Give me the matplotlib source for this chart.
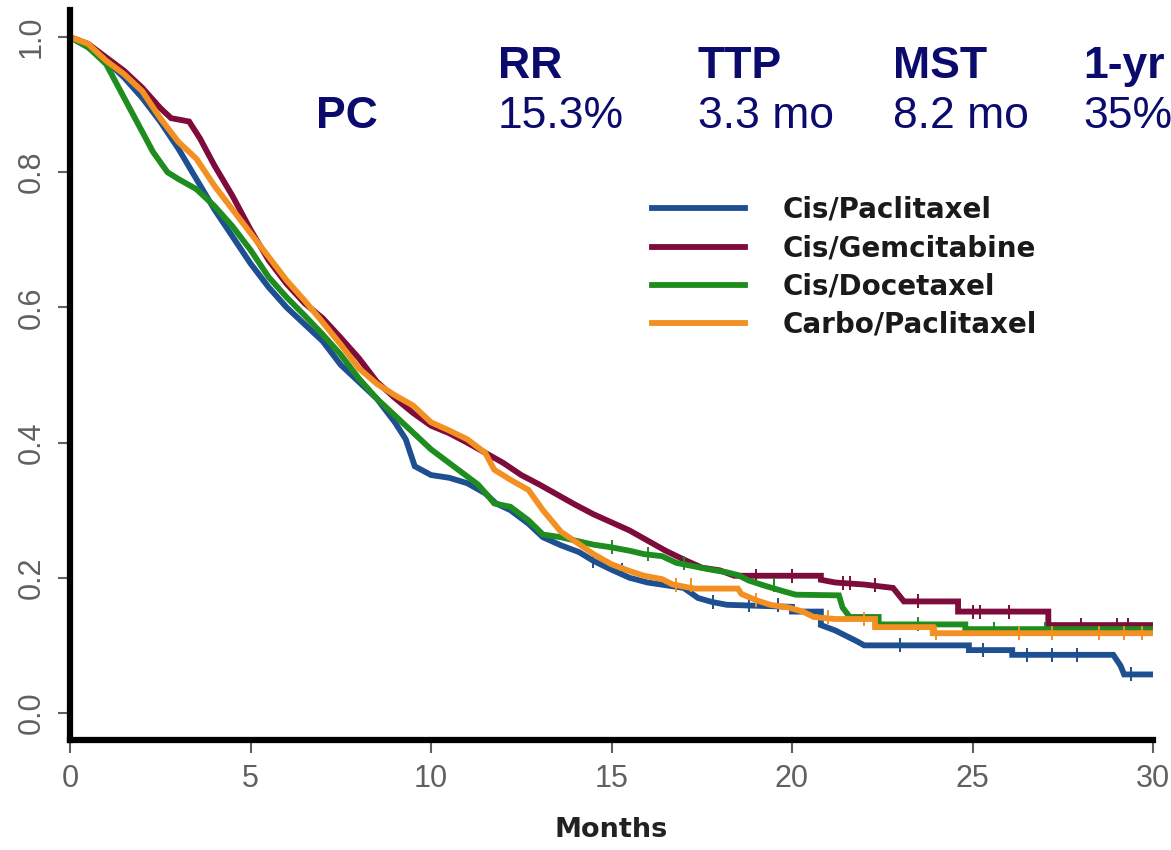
"""
Kaplan-Meier overall survival, four platinum doublets (re-drawn from slide).
"""

import numpy as np
import matplotlib
matplotlib.use('Agg')
import matplotlib.pyplot as plt


# ============================================================
# DATA
# ============================================================
arms = ['Cis/Paclitaxel', 'Cis/Gemcitabine', 'Cis/Docetaxel', 'Carbo/Paclitaxel']
arm_colors = ['#1d4f91', '#7d0b3b', '#1e8c1e', '#f39022']

# months / survival fraction; repeated months = a vertical drop of the step curve
pc_t = [0, 0.5, 1, 1.5, 2, 2.5, 3, 3.5, 4, 4.5, 5, 5.5, 6, 6.5, 7, 7.5, 8, 8.5,
        9, 9.3, 9.55, 10, 10.5, 11, 11.5, 11.8, 12.2, 12.7, 13.1, 13.6, 14.1,
        14.5, 15, 15.5, 16, 16.5, 17, 17.4, 17.8, 18.2, 20.0, 20.0, 20.8, 20.8,
        21.2, 21.5, 21.8, 22.0, 24.9, 24.9, 26.1, 26.1, 28.9, 29.1, 29.2, 30]
pc_s = [1.0, 0.985, 0.965, 0.94, 0.91, 0.875, 0.835, 0.79, 0.745, 0.705, 0.665,
        0.63, 0.60, 0.575, 0.55, 0.515, 0.49, 0.465, 0.43, 0.405, 0.365, 0.352,
        0.348, 0.34, 0.325, 0.31, 0.30, 0.28, 0.26, 0.248, 0.238, 0.225, 0.212,
        0.20, 0.193, 0.189, 0.185, 0.17, 0.164, 0.16, 0.157, 0.15, 0.15, 0.13,
        0.122, 0.114, 0.106, 0.10, 0.10, 0.093, 0.093, 0.086, 0.086, 0.07,
        0.057, 0.057]

gc_t = [0, 0.5, 1, 1.5, 2, 2.5, 2.8, 3.3, 3.6, 4, 4.5, 5, 5.5, 6, 6.5, 7, 7.5,
        8, 8.5, 9, 9.5, 10, 10.5, 11, 11.5, 12, 12.5, 13, 13.5, 14, 14.5, 15,
        15.5, 16, 16.5, 17, 17.5, 18, 18.4, 20.8, 20.8, 21.2, 22.0, 22.8, 23.1,
        24.6, 24.6, 27.1, 27.1, 30]
gc_s = [1.0, 0.99, 0.97, 0.95, 0.925, 0.895, 0.88, 0.875, 0.85, 0.81, 0.765,
        0.715, 0.67, 0.635, 0.606, 0.584, 0.555, 0.525, 0.49, 0.466, 0.444,
        0.425, 0.414, 0.40, 0.385, 0.37, 0.352, 0.338, 0.323, 0.308, 0.294,
        0.282, 0.27, 0.255, 0.24, 0.227, 0.215, 0.211, 0.203, 0.203, 0.197,
        0.193, 0.19, 0.185, 0.165, 0.165, 0.15, 0.15, 0.13, 0.13]

dc_t = [0, 0.5, 1, 1.3, 1.6, 2, 2.3, 2.7, 3, 3.5, 4, 4.5, 5, 5.5, 6, 6.5, 7,
        7.5, 8, 8.5, 9, 9.5, 10, 10.5, 11, 11.3, 11.6, 11.75, 12.2, 12.7, 13.1,
        13.6, 14, 14.5, 15, 15.5, 15.9, 16.4, 16.8, 17.75, 18.2, 18.5, 18.8,
        19.2, 19.7, 20.1, 21.3, 21.4, 21.6, 22.4, 22.4, 24.8, 24.8, 30]
dc_s = [1.0, 0.985, 0.96, 0.93, 0.90, 0.86, 0.83, 0.80, 0.79, 0.775, 0.75,
        0.72, 0.685, 0.645, 0.615, 0.588, 0.56, 0.53, 0.495, 0.465, 0.44,
        0.415, 0.39, 0.37, 0.35, 0.338, 0.32, 0.31, 0.305, 0.285, 0.264, 0.26,
        0.255, 0.249, 0.245, 0.24, 0.235, 0.232, 0.222, 0.212, 0.208, 0.204,
        0.196, 0.189, 0.181, 0.175, 0.174, 0.156, 0.142, 0.142, 0.131, 0.131,
        0.124, 0.124]

cp_t = [0, 0.5, 1, 1.5, 2, 2.5, 3, 3.5, 4, 4.5, 5, 5.5, 6, 6.5, 7, 7.5, 8, 8.5,
        9, 9.5, 10, 10.5, 11, 11.5, 11.75, 12.2, 12.7, 13.1, 13.6, 14.1, 14.5,
        15, 15.5, 15.9, 16.4, 16.7, 17.3, 18.5, 18.6, 19, 19.4, 19.9, 20.3,
        20.6, 21.2, 22.3, 22.3, 23.9, 23.9, 30]
cp_s = [1.0, 0.99, 0.965, 0.945, 0.92, 0.88, 0.845, 0.82, 0.78, 0.745, 0.71,
        0.675, 0.64, 0.61, 0.578, 0.545, 0.51, 0.487, 0.47, 0.455, 0.43, 0.418,
        0.405, 0.385, 0.36, 0.345, 0.33, 0.30, 0.268, 0.25, 0.235, 0.22, 0.21,
        0.203, 0.198, 0.19, 0.184, 0.184, 0.176, 0.167, 0.16, 0.156, 0.15,
        0.142, 0.139, 0.139, 0.127, 0.127, 0.118, 0.118]

# censored patients (tick marks on the curves), months
pc_cens = [14.5, 15.3, 17.8, 18.8, 19.6, 23.0, 25.3, 26.5, 27.2, 27.9, 29.4]
gc_cens = [19.0, 20.0, 21.4, 21.6, 22.3, 23.5, 25.0, 25.2, 26.0, 28.0, 29.0, 29.3]
dc_cens = [15.0, 16.0, 17.0, 19.5, 23.5, 25.6, 27.0]
cp_cens = [16.8, 17.2, 19.0, 21.0, 22.0, 24.0, 26.3, 27.2, 28.5, 29.2, 29.7]

stat_names = ['RR', 'TTP', 'MST', '1-yr']
stat_values = ['15.3%', '3.3 mo', '8.2 mo', '35%']
stat_row_label = 'PC'

x_ticks = [0, 5, 10, 15, 20, 25, 30]
y_ticks = [0.0, 0.2, 0.4, 0.6, 0.8, 1.0]

NAVY = '#0b0b6e'
TICK_GREY = '#606060'
W, H = 1171, 850


def surv_at(t_list, s_list, when):
    """value of the step curve just after `when` (used for censor ticks)"""
    idx = np.searchsorted(np.asarray(t_list), when, side='right') - 1
    return np.asarray(s_list)[idx]


fig = plt.figure(figsize=(W / 100, H / 100), dpi=100)
ax = fig.add_axes([70 / W, 1 - 740 / H, (1153 - 70) / W, (740 - 10) / H])

series = [(pc_t, pc_s, pc_cens), (gc_t, gc_s, gc_cens),
          (dc_t, dc_s, dc_cens), (cp_t, cp_s, cp_cens)]

for (t, s, cens), name, col in zip(series, arms, arm_colors):
    ax.plot(t, s, color=col, lw=4.2, solid_joinstyle='miter', label=name)
    ax.plot(cens, surv_at(t, s, cens), ls='none', marker='|', ms=10,
            mew=1.4, color=col)

ax.set_xlim(0, 30)
ax.set_ylim(-0.04, 1.04)

for side in ['top', 'right']:
    ax.spines[side].set_visible(False)
for side in ['left', 'bottom']:
    ax.spines[side].set_linewidth(4.5)
    ax.spines[side].set_color('black')

tick_font = ['Liberation Sans Narrow', 'Liberation Sans']
ax.set_xticks(x_ticks)
ax.set_xticklabels([str(v) for v in x_ticks], family=tick_font, fontsize=22,
                   color=TICK_GREY)
ax.set_yticks(y_ticks)
ax.set_yticklabels([f'{v:.1f}' for v in y_ticks], family=tick_font,
                   fontsize=22, color=TICK_GREY, rotation=90, va='center')
ax.tick_params(axis='both', length=9, width=1.5, color=TICK_GREY, pad=8)

ax.set_xlabel('Months', fontsize=19.5, fontweight='bold', color='#222222',
              family='DejaVu Sans', labelpad=17)

leg = ax.legend(loc='upper left', bbox_to_anchor=(652 / W, 1 - 196 / H),
                bbox_transform=fig.transFigure, frameon=False,
                borderpad=0, borderaxespad=0, handlelength=3.35,
                handletextpad=1.37, labelspacing=0.37,
                prop={'family': 'DejaVu Sans', 'weight': 'bold', 'size': 20})
for txt in leg.get_texts():
    txt.set_color('#1a1a1a')

# summary stats for PC in the top right corner
col_x = [498, 698, 893, 1083]
for name, val, x in zip(stat_names, stat_values, col_x):
    fig.text(x / W, 1 - 78 / H, name, fontsize=32, fontweight='bold',
             color=NAVY, family='Liberation Sans', va='baseline')
    fig.text(x / W, 1 - 128 / H, val, fontsize=32, color=NAVY,
             family='Liberation Sans', va='baseline')
fig.text(316 / W, 1 - 128 / H, stat_row_label, fontsize=32, fontweight='bold',
         color=NAVY, family='Liberation Sans', va='baseline')

fig.savefig('out.png', dpi=100)
